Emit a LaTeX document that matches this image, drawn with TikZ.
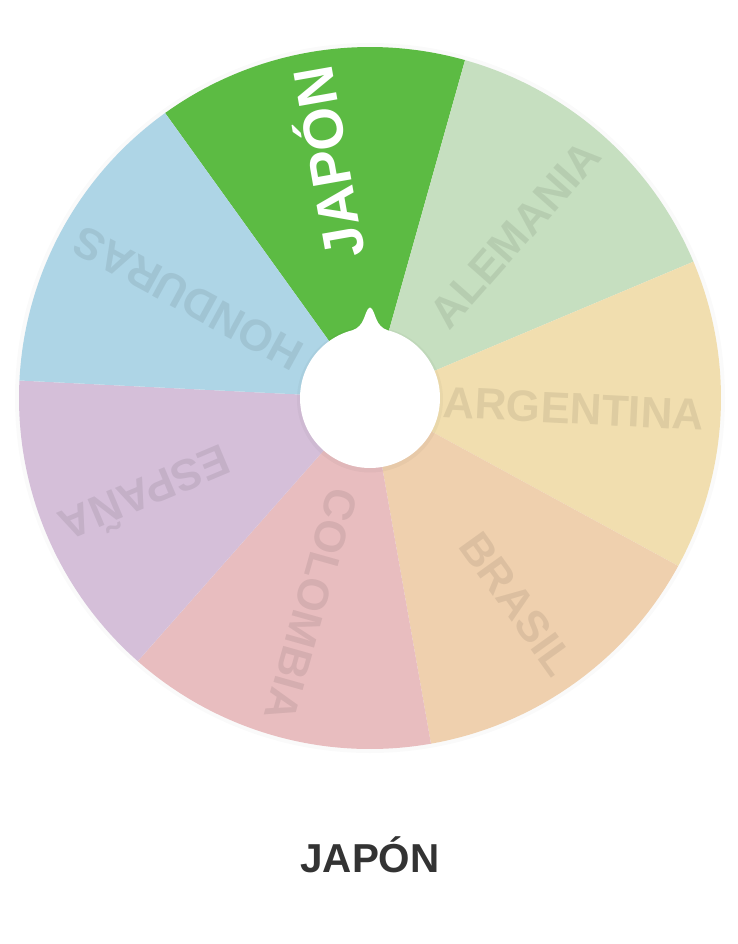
\documentclass[tikz,border=0pt]{standalone}
\usepackage{fontspec}
\setmainfont{Liberation Sans}
\definecolor{wGreen}{HTML}{5CBB43}
\definecolor{wMint}{HTML}{C6DFC0}
\definecolor{wSand}{HTML}{F1DEAF}
\definecolor{wPeach}{HTML}{EFD0AE}
\definecolor{wRose}{HTML}{E8BDBF}
\definecolor{wLilac}{HTML}{D5BFD9}
\definecolor{wSky}{HTML}{AED5E6}
\definecolor{wInk}{HTML}{333333}
\usetikzlibrary{positioning}

\begin{document}
\begin{tikzpicture}[
  slicelabel/.style={font=\bfseries\fontsize{25}{25}\selectfont, text=black, text opacity=0.08,
    anchor=east, inner sep=0pt, text height=17.9pt, text depth=0pt}]
  \fill[white] (-7.4,7.96) rectangle (7.36,-10.92);
  \useasboundingbox (-7.4,7.96) rectangle (7.36,-10.92);
  % soft rim round the wheel
  \fill[black, opacity=0.02] (0,0) circle (7.1);
  \fill[wGreen] (0,0) -- (74.29:7.02) arc[start angle=74.29, end angle=125.71, radius=7.02] -- cycle;
  \foreach \a/\c/\l [count=\i] in {48.57/wMint/ALEMANIA, -2.86/wSand/ARGENTINA,
      -54.29/wPeach/BRASIL, -105.71/wRose/COLOMBIA, -157.14/wLilac/ESPAÑA, 151.43/wSky/HONDURAS}{
    \fill[\c] (0,0) -- (\a-25.71:7.02) arc[start angle=\a-25.71, end angle=\a+25.71, radius=7.02] -- cycle;
    \node[slicelabel, rotate=\a] (seg\i) at (\a:6.7) {\l};}
  \node[slicelabel, rotate=100, text=white, text opacity=1, text height=22.9pt,
    font=\bfseries\fontsize{32}{32}\selectfont] (pick) at (100:6.72) {JAPÓN};
  % hub with its pointer
  \fill[black, opacity=0.03] (0,-0.03) circle (1.46);
  \fill[white] (-0.34,1.36) .. controls (-0.12,1.44) and (-0.12,1.66) .. (-0.04,1.78)
    .. controls (-0.01,1.82) and (0.01,1.82) .. (0.04,1.78)
    .. controls (0.12,1.66) and (0.12,1.44) .. (0.34,1.36) -- cycle;
  \node[circle, fill=white, minimum size=2.8cm, inner sep=0pt] (hub) at (0,0) {};
  \node[font=\bfseries\fontsize{23}{23}\selectfont, text=wInk, anchor=base] (result) at (0,-9.48) {JAPÓN};
\end{tikzpicture}
\end{document}
